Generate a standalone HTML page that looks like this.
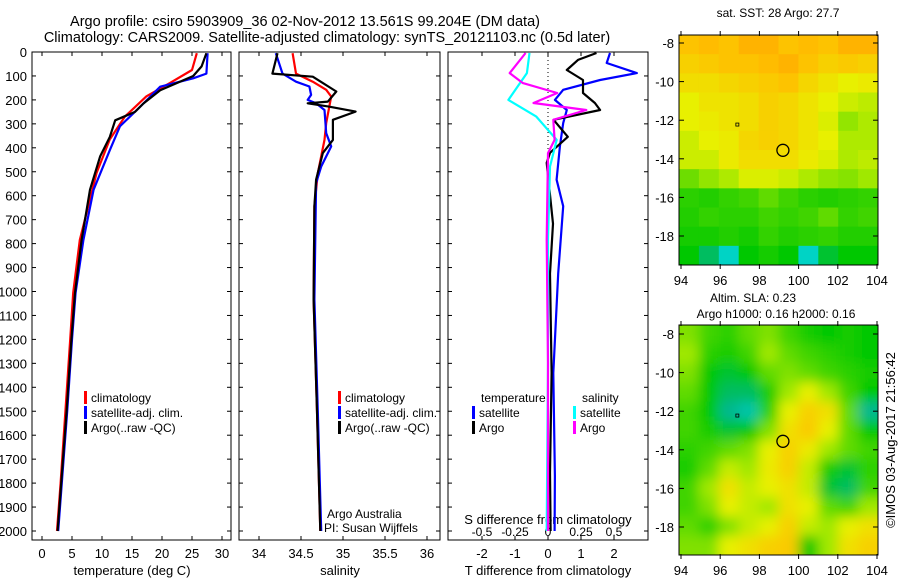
<!DOCTYPE html>
<html><head><meta charset="utf-8"><style>
body{margin:0;background:#fff;width:900px;height:580px;overflow:hidden}
svg{font-family:"Liberation Sans",sans-serif}
</style></head><body>
<svg id="s" width="900" height="580" viewBox="0 0 900 580">
<defs>
<clipPath id="c1"><rect x="679" y="35" width="199" height="230"/></clipPath>
<clipPath id="c2"><rect x="679" y="325" width="199" height="230"/></clipPath>
<filter id="bl"><feGaussianBlur stdDeviation="6"/></filter>
</defs>
<text x="305" y="26" font-size="14.5" text-anchor="middle">Argo profile: csiro 5903909_36 02-Nov-2012 13.561S 99.204E (DM data)</text>
<text x="327" y="42" font-size="14.5" text-anchor="middle">Climatology: CARS2009. Satellite-adjusted climatology: synTS_20121103.nc (0.5d later)</text>
</svg>
<script>
// ---- data ----
const tDepA=[5,60,100,160,215,250,285,355,435,575,785,1005,1200,1500,1800,2000];
const tArgo=[27.4,26.6,25.2,19.7,16.9,15.5,12.2,11.3,9.7,8.0,6.6,5.5,4.9,4.1,3.2,2.6];
const tDepC=[5,75,130,185,270,365,505,785,1005,1200,1500,1800,2000];
const tClim=[25.8,25.0,21.3,17.4,13.8,11.3,9.1,6.3,5.2,4.7,3.9,3.1,2.5];
const tDepS=[5,90,110,145,230,310,410,575,785,1005,1200,1500,1800,2000];
const tSat=[27.6,27.4,25.2,19.7,16.3,13.0,11.3,8.6,6.9,5.6,5.0,4.2,3.3,2.7];
const sDepA=[5,90,103,165,207,214,228,249,283,367,422,533,644,1033,1500,2000];
const sArgo=[34.22,34.16,34.64,34.92,34.82,34.58,34.83,35.15,34.88,34.88,34.76,34.68,34.66,34.65,34.69,34.73];
const sDepC=[5,90,124,158,186,297,367,506,644,1033,1500,2000];
const sClim=[34.40,34.44,34.64,34.80,34.86,34.80,34.78,34.70,34.66,34.65,34.69,34.73];
const sDepS=[5,90,124,144,179,200,214,242,339,394,478,547,1033,1500,2000];
const sSat=[34.20,34.28,34.44,34.60,34.62,34.58,34.68,34.78,34.80,34.86,34.74,34.68,34.66,34.70,34.74];
const dDepTA=[4,33,75,117,171,213,242,283,354,421,463,717,925,1340,1757,2000];
const dTArgo=[1.47,0.91,0.57,1.06,1.06,1.42,1.58,0.17,0.6,0.06,-0.04,0.15,0.06,0.11,0.06,0.08];
const dDepTS=[4,46,88,117,158,200,242,297,394,533,644,925,1340,1770,2000];
const dTSat=[1.88,1.78,2.69,1.58,0.46,0.21,0.57,0.46,0.36,0.26,0.46,0.31,0.16,0.21,0.2];
const dDepSS=[4,88,200,269,367,478,783,1300,2000];
const dSSat=[-0.14,-0.16,-0.30,-0.09,0.066,0.015,0,0,-0.01];
const dDepSA=[4,88,130,171,213,242,283,367,422,783,1300,2000];
const dSArgo=[-0.17,-0.29,-0.19,0.07,-0.11,0.29,0.04,0.05,0,-0.01,0,0];
const depthTicks=[0,100,200,300,400,500,600,700,800,900,1000,1100,1200,1300,1400,1500,1600,1700,1800,1900,2000];
const tTicks=[0,5,10,15,20,25,30];
const sTicks=[34,34.5,35,35.5,36];
const dTTicks=[-2,-1,0,1,2];
const dSTicks=[-0.5,-0.25,0,0.25,0.5];
const dSTickLabels=["-0.5","-0.25","0","0.25","0.5"];
const latTicks=[-8,-10,-12,-14,-16,-18];
const lonTicks=[94,96,98,100,102,104];
const sstGrid=[
[.84,.86,.84,.88,.88,.84,.86,.84,.88,.88],[.8,.82,.84,.84,.86,.88,.84,.8,.82,.8],
[.76,.76,.78,.8,.82,.84,.78,.74,.7,.72],[.7,.74,.74,.76,.8,.78,.74,.7,.66,.64],
[.7,.72,.74,.76,.8,.78,.74,.68,.58,.62],[.66,.7,.72,.78,.8,.78,.74,.7,.62,.62],
[.66,.66,.72,.76,.76,.76,.72,.68,.62,.64],[.52,.58,.62,.68,.68,.66,.62,.58,.56,.6],
[.4,.38,.42,.45,.5,.45,.4,.38,.4,.42],[.38,.42,.4,.4,.45,.42,.45,.5,.42,.45],
[.35,.35,.38,.35,.42,.38,.4,.42,.38,.38],[.3,.2,.05,.3,.35,.3,.05,.25,.3,.3]];
const slaGrid=[
[.55,.45,.4,.5,.55,.45,.35,.3,.35,.3],[.6,.4,.35,.45,.6,.5,.45,.4,.35,.3],
[.55,.3,.25,.3,.5,.55,.5,.45,.4,.35],[.5,.3,.2,.2,.35,.6,.7,.6,.45,.3],
[.45,.3,.15,.1,.4,.7,.8,.75,.5,.15],[.45,.35,.25,.3,.55,.75,.82,.7,.5,.3],
[.4,.45,.5,.55,.7,.8,.72,.6,.5,.45],[.35,.5,.65,.6,.72,.8,.65,.35,.25,.4],
[.45,.6,.75,.65,.7,.75,.65,.25,.2,.45],[.45,.55,.7,.65,.6,.75,.7,.5,.45,.6],
[.5,.4,.55,.65,.7,.8,.65,.6,.7,.75],[.55,.55,.7,.75,.8,.82,.3,.6,.75,.8]];

const S=document.getElementById('s');const NS='http://www.w3.org/2000/svg';
function el(t,a,txt){const e=document.createElementNS(NS,t);for(const k in a)e.setAttribute(k,a[k]);if(txt!==undefined)e.textContent=txt;S.appendChild(e);return e;}
const Y=d=>52+0.2395*d;
const xT=v=>42+6*v, xS=v=>259+84*(v-34), xDT=v=>548+33*v, xDS=v=>548+132*v;
const panels=[[32,231],[239,440],[448,648]];
panels.forEach((p,i)=>{
 const r=el('rect',{x:p[0],y:52,width:p[1]-p[0],height:488,fill:'none',stroke:'#000'});
 
 
 depthTicks.forEach(d=>{el('line',{x1:p[0],x2:p[0]+4,y1:Y(d),y2:Y(d),stroke:'#000'});el('line',{x1:p[1]-4,x2:p[1],y1:Y(d),y2:Y(d),stroke:'#000'});});
});
depthTicks.forEach(d=>{const t=el('text',{x:27,y:Y(d)+5,'font-size':13,'text-anchor':'end'},String(d));
 
 });
function xticks(arr,f,lab,ly,top){arr.forEach((v,i)=>{const x=f(v);el('line',{x1:x,x2:x,y1:536,y2:540,stroke:'#000'});if(top)el('line',{x1:x,x2:x,y1:52,y2:56,stroke:'#000'});
 const t=el('text',{x:x,y:ly,'font-size':13,'text-anchor':'middle'},lab?lab[i]:String(v));
 
 });}
xticks(tTicks,xT,null,558,true);xticks(sTicks,xS,null,558,true);xticks(dTTicks,xDT,null,558,true);
dSTicks.forEach((v,i)=>{const t=el('text',{x:xDS(v),y:536,'font-size':12,'text-anchor':'middle'},dSTickLabels[i]);
 
 });
[['temperature (deg C)',132,575],['salinity',340,575],['T difference from climatology',548,575],['S difference from climatology',548,524]].forEach(a=>{
 const t=el('text',{x:a[1],y:a[2],'font-size':13,'text-anchor':'middle'},a[0]);
 
 });
el('line',{x1:548,x2:548,y1:52,y2:420,stroke:'#000','stroke-dasharray':'1,3'});
function line(ds,vs,f,col,name,w){const pts=ds.map((d,i)=>f(vs[i]).toFixed(1)+','+Y(d).toFixed(1)).join(' ');
 const p=el('polyline',{points:pts,fill:'none',stroke:col,'stroke-width':w||2.2,'stroke-linejoin':'round'});
 
 }
line(tDepC,tClim,xT,'#f00','temp-climatology-line');line(tDepS,tSat,xT,'#00f','temp-satellite-line');line(tDepA,tArgo,xT,'#000','temp-argo-line');
line(sDepC,sClim,xS,'#f00','sal-climatology-line');line(sDepS,sSat,xS,'#00f','sal-satellite-line');line(sDepA,sArgo,xS,'#000','sal-argo-line');
line(dDepTS,dTSat,xDT,'#00f','tdiff-satellite-line');line(dDepTA,dTArgo,xDT,'#000','tdiff-argo-line');
line(dDepSS,dSSat,xDS,'#0ff','sdiff-satellite-line');line(dDepSA,dSArgo,xDS,'#f0f','sdiff-argo-line');
function leg(x,y,col,txt){el('rect',{x:x-1,y:y-11,width:3,height:13,fill:col});const t=el('text',{x:x+6,y:y,'font-size':12},txt);
 
 }
[[85,'#f00','climatology'],[85,'#00f','satellite-adj. clim.'],[85,'#000','Argo(..raw -QC)']].forEach((a,i)=>leg(a[0],402+i*15,a[1],a[2]));
[[339,'#f00','climatology'],[339,'#00f','satellite-adj. clim.'],[339,'#000','Argo(..raw -QC)']].forEach((a,i)=>leg(a[0],402+i*15,a[1],a[2]));
el('text',{x:481,y:402,'font-size':12},'temperature');el('text',{x:582,y:402,'font-size':12},'salinity');
leg(473,417,'#00f','satellite');leg(473,432,'#000','Argo');leg(574,417,'#0ff','satellite');leg(574,432,'#f0f','Argo');
el('text',{x:327,y:518,'font-size':12},'Argo Australia');el('text',{x:324,y:532,'font-size':12},'PI: Susan Wijffels');
// ---- maps ----
const stops=[[0,[0,224,224]],[0.15,[0,184,144]],[0.3,[0,200,0]],[0.45,[64,212,0]],[0.6,[160,232,0]],[0.7,[232,240,0]],[0.85,[255,192,0]],[1,[255,128,0]]];
function cmap(v){for(let i=1;i<stops.length;i++){if(v<=stops[i][0]){const a=stops[i-1],b=stops[i],t=(v-a[0])/(b[0]-a[0]);return 'rgb('+a[1].map((c,k)=>Math.round(c+(b[1][k]-c)*t)).join(',')+')';}}return 'rgb(255,128,0)';}
const LX=lon=>681+(lon-94)*19.6;
function map(grid,top,y0,clip,blur,name){const g=document.createElementNS(NS,'g');g.setAttribute('clip-path','url(#'+clip+')');
 
 
 const inner=document.createElementNS(NS,'g');if(blur)inner.setAttribute('filter','url(#bl)');g.appendChild(inner);S.appendChild(g);
 const cw=199/10,ch=230/12;
 grid.forEach((row,r)=>row.forEach((v,c)=>{const e=document.createElementNS(NS,'rect');
  e.setAttribute('x',679+c*cw-(blur&&c==0?20:0));e.setAttribute('y',top+r*ch-(blur&&r==0?20:0));
  e.setAttribute('width',cw+0.5+(blur&&(c==0||c==9)?20:0));e.setAttribute('height',ch+0.5+(blur&&(r==0||r==11)?20:0));
  e.setAttribute('fill',cmap(v));inner.appendChild(e);}));
 const LY=lat=>y0+(-8-lat)*19.3;
 el('rect',{x:679,y:top,width:199,height:230,fill:'none',stroke:'#000'});
 latTicks.forEach(l=>{el('line',{x1:679,x2:684,y1:LY(l),y2:LY(l),stroke:'#000'});el('line',{x1:873,x2:878,y1:LY(l),y2:LY(l),stroke:'#000'});el('text',{x:674,y:LY(l)+5,'font-size':13,'text-anchor':'end'},String(l));});
 lonTicks.forEach(l=>{el('line',{x1:LX(l),x2:LX(l),y1:top-4,y2:top+1,stroke:'#000'});el('line',{x1:LX(l),x2:LX(l),y1:top+229,y2:top+234,stroke:'#000'});el('text',{x:LX(l),y:top+250,'font-size':13,'text-anchor':'middle'},String(l));});
 const c=el('circle',{cx:LX(99.2),cy:LY(-13.56),r:6,fill:'none',stroke:'#000','stroke-width':1.3});
 
 
 el('rect',{x:LX(96.85)-1,y:LY(-12.2)-1,width:3,height:3,fill:'none',stroke:'#000','stroke-width':0.8});
}
map(sstGrid,35,43,'c1',false,'sst-map');
map(slaGrid,325,334,'c2',true,'sla-map');
el('text',{x:778,y:17,'font-size':12,'text-anchor':'middle'},'sat. SST: 28 Argo: 27.7');
el('text',{x:753,y:302,'font-size':12,'text-anchor':'middle'},'Altim. SLA: 0.23');
el('text',{x:776,y:318,'font-size':12,'text-anchor':'middle'},'Argo h1000: 0.16 h2000: 0.16');
const cr=el('text',{x:0,y:0,'font-size':13,'text-anchor':'middle',transform:'translate(895,440) rotate(-90)'},'©IMOS 03-Aug-2017 21:56:42');


</script>
</body></html>
